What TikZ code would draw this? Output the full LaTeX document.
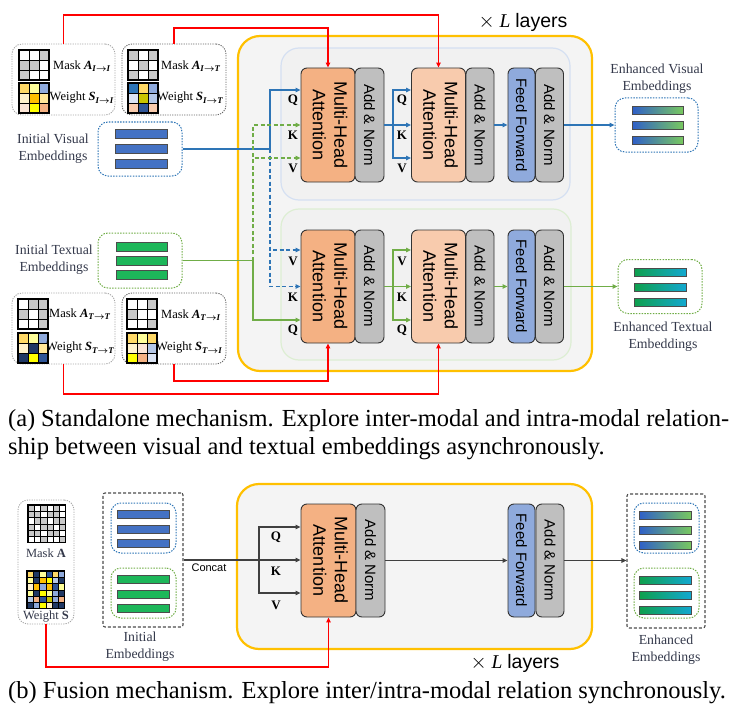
\documentclass[tikz,border=0pt]{standalone}
\usepackage{fontspec}
\setmainfont{Liberation Serif}
\setsansfont{Liberation Sans}
\usepackage{graphicx}
\usetikzlibrary{arrows.meta}
\definecolor{mhaA}{HTML}{F4B183}
\definecolor{mhaB}{HTML}{F8CBAD}
\definecolor{anC}{HTML}{BFBFBF}
\definecolor{ffC}{HTML}{8FAADC}
\definecolor{yel}{HTML}{FFC000}
\definecolor{bgY}{HTML}{F4F4F4}
\definecolor{bgI}{HTML}{F1F1F1}
\definecolor{upB}{HTML}{D5E0F2}
\definecolor{loB}{HTML}{DDEED3}
\definecolor{blueL}{HTML}{2E75B6}
\definecolor{greenL}{HTML}{70AD47}
\definecolor{barB}{HTML}{4472C4}
\definecolor{barG}{HTML}{1DB75A}
\definecolor{txtC}{HTML}{33384A}
\definecolor{darkL}{HTML}{404040}
\definecolor{cG}{HTML}{C8C8C8}
\definecolor{cW}{HTML}{FFFFFF}
\definecolor{gA}{HTML}{FFD966}
\definecolor{gB}{HTML}{FFFF99}
\definecolor{gC}{HTML}{8FAADC}
\definecolor{gD}{HTML}{FFF2CC}
\definecolor{gE}{HTML}{FFC000}
\definecolor{gF}{HTML}{FFE699}
\definecolor{gH}{HTML}{FBE5D6}
\definecolor{gI}{HTML}{FFFF00}
\definecolor{gJ}{HTML}{F4B183}
\definecolor{bA}{HTML}{2E75B6}
\definecolor{bB}{HTML}{DAE3F3}
\definecolor{bC}{HTML}{C9C400}
\definecolor{bD}{HTML}{B4C7E7}
\definecolor{bE}{HTML}{F8CBAD}
\definecolor{bF}{HTML}{2F5597}
\definecolor{nA}{HTML}{203864}
\definecolor{evL}{HTML}{2F5FC8}
\definecolor{evM}{HTML}{00B8F0}
\definecolor{evR}{HTML}{78C860}
\definecolor{etL}{HTML}{0FA04C}
\definecolor{etM}{HTML}{92D450}
\definecolor{etR}{HTML}{12A8D0}
\newcommand{\mybi}[1]{\textbf{\textit{#1}}}
\newcommand{\mysub}[2]{\textsubscript{\mybi{#1}{\boldmath$\to$}\mybi{#2}}}
\newcommand{\cellgrid}[5]{%
  \foreach \clr [count=\k from 0] in {#5}{%
    \pgfmathtruncatemacro{\rr}{\k/#4}%
    \pgfmathtruncatemacro{\qq}{\k-\rr*#4}%
    \filldraw[fill=\clr, draw=black, line width=0.7pt] ({#1+\qq*#3},{#2+\rr*#3}) rectangle ++(#3,#3);%
  }%
  \draw[black, line width=1.1pt] (#1,#2) rectangle ++({#4*#3},{#4*#3});%
}
\newcommand{\mhatext}{\rotatebox{-90}{\begin{tabular}{@{}c@{}}Multi-Head\\Attention\end{tabular}}}
\newcommand{\antext}{\rotatebox{-90}{Add \& Norm}}
\newcommand{\fftext}{\rotatebox{-90}{Feed Forward}}
\begin{document}
\begin{tikzpicture}[x=1pt,y=-1pt,
  arr/.style={-{Triangle[length=5pt,width=4.5pt]}},
  dsh/.style={dash pattern=on 4pt off 2.5pt},
  blk/.style={draw=black!80, line width=0.9pt, rounded corners=6pt, inner sep=0pt, minimum height=114},
  mha/.style={blk, minimum width=54, font=\sffamily\fontsize{18}{21.5}\selectfont},
  anb/.style={blk, fill=anC, minimum width=29, font=\sffamily\fontsize{15}{17}\selectfont},
  ffb/.style={blk, fill=ffC, minimum width=27, font=\sffamily\fontsize{15}{17}\selectfont},
  frame/.style={draw=yel, line width=2.2pt, fill=bgY, rounded corners=22pt, inner sep=0pt},
  inbox/.style={line width=1.2pt, fill=bgI, rounded corners=18pt, inner sep=0pt},
  blueln/.style={draw=blueL, line width=1.2pt},
  greenln/.style={draw=greenL, line width=1.2pt},
  redln/.style={draw=red, line width=1.4pt},
  darkln/.style={draw=darkL, line width=1.1pt},
  qkv/.style={font=\bfseries\fontsize{13}{15}\selectfont, inner sep=0pt},
  embtxt/.style={font=\fontsize{13.8}{17}\selectfont, text=txtC, align=center, inner sep=0pt},
  msk/.style={font=\fontsize{12.5}{14}\selectfont, anchor=west, inner sep=0pt},
  maskbox/.style={rounded corners=10pt, line width=0.9pt, inner sep=0pt, dash pattern=on 1.2pt off 1.2pt},
  embbox/.style={rounded corners=10pt, line width=1pt, inner sep=0pt, dash pattern=on 1.5pt off 1.3pt},
  barline/.style={draw=black!70, line width=1pt}
]
\useasboundingbox (0,0) rectangle (737,709);

% ================= (a) =================
\node[frame, minimum width=354, minimum height=335] (yA) at (415,203.5) {};
\node[inbox, draw=upB, minimum width=289, minimum height=152] (upA) at (425.5,124) {};
\node[inbox, draw=loB, minimum width=290, minimum height=151] (loA) at (426,284.5) {};
\node[font=\fontsize{19.5}{22}\selectfont, inner sep=0pt] (layA) at (523,22) {$\times$ \textit{L} \textsf{layers}};

% blocks upper
\node[mha, fill=mhaA] (mha1) at (328,125) {\mhatext};
\node[anb] (an1) at (369.5,125) {\antext};
\node[mha, fill=mhaB] (mha2) at (438.5,125) {\mhatext};
\node[anb, minimum width=28] (an2) at (480,125) {\antext};
\node[ffb] (ff1) at (521.5,125) {\fftext};
\node[anb, minimum width=28] (an3) at (549.5,125) {\antext};
% blocks lower
\node[mha, fill=mhaA, minimum height=113] (mha3) at (328,286.5) {\mhatext};
\node[anb, minimum height=113] (an4) at (369.5,286.5) {\antext};
\node[mha, fill=mhaB, minimum height=113] (mha4) at (438.5,286.5) {\mhatext};
\node[anb, minimum width=28, minimum height=113] (an5) at (480,286.5) {\antext};
\node[ffb, minimum height=113] (ff2) at (521.5,286.5) {\fftext};
\node[anb, minimum width=28, minimum height=113] (an6) at (549.5,286.5) {\antext};

% mask boxes
\node[maskbox, draw=black!35, minimum width=103, minimum height=71] (m1) at (63.5,79.5) {};
\node[maskbox, draw=black!60, minimum width=104, minimum height=71] (m2) at (174,79.5) {};
\node[maskbox, draw=black!35, minimum width=103, minimum height=71] (m3) at (63.5,328.5) {};
\node[maskbox, draw=black!60, minimum width=104, minimum height=71] (m4) at (174,328.5) {};
\cellgrid{19}{50}{10}{3}{cW,cW,cG, cG,cG,cW, cG,cW,cW}
\cellgrid{19}{83}{10}{3}{gA,gB,gC, gD,gE,gF, gH,gI,gJ}
\cellgrid{128}{50}{10}{3}{cG,cW,cG, cW,cG,cW, cG,cW,cG}
\cellgrid{128}{83}{10}{3}{bA,gA,gC, bB,bC,bD, bE,bF,bE}
\cellgrid{18}{299}{10}{3}{cW,cG,cG, cG,cW,cG, cW,cW,cG}
\cellgrid{18}{333}{10}{3}{gA,gB,gC, gD,nA,gF, nA,gI,bF}
\cellgrid{127}{299}{10}{3}{cW,cW,cG, cG,cW,cW, cW,cW,cG}
\cellgrid{127}{333}{10}{3}{gA,gB,gA, gD,gH,bD, gI,gJ,bB}
\node[msk] (mt1) at (53,66) {Mask \mybi{A}\mysub{I}{I}};
\node[msk] (wt1) at (49.5,98) {Weight \mybi{S}\mysub{I}{I}};
\node[msk] (mt2) at (161,66) {Mask \mybi{A}\mysub{I}{T}};
\node[msk] (wt2) at (157,98) {Weight \mybi{S}\mysub{I}{T}};
\node[msk] (mt3) at (49,314) {Mask \mybi{A}\mysub{T}{T}};
\node[msk] (wt3) at (46,348) {Weight \mybi{S}\mysub{T}{T}};
\node[msk] (mt4) at (161,315) {Mask \mybi{A}\mysub{T}{I}};
\node[msk] (wt4) at (156,348) {Weight \mybi{S}\mysub{T}{I}};

% embeddings
\node[embtxt] (visT) at (53,149) {Initial Visual\\Embeddings};
\node[embtxt] (txtT) at (54,260) {Initial Textual\\Embeddings};
\node[embbox, draw=blueL, minimum width=84, minimum height=54] (visE) at (140,149) {};
\node[embbox, draw=greenL, minimum width=84, minimum height=55] (txtE) at (140,260.5) {};
\foreach \yy in {134,149,164} \filldraw[barline, fill=barB] (115,\yy-4.5) rectangle (167,\yy+4.5);
\foreach \yy in {247,261,275} \filldraw[barline, fill=barG] (116,\yy-4.5) rectangle (167,\yy+4.5);
\node[embbox, draw=blueL, minimum width=83, minimum height=54] (enhV) at (656.5,125) {};
\node[embbox, draw=greenL, minimum width=84, minimum height=54] (enhT) at (660,286.5) {};
\foreach \yy in {111,125.5,140} \draw[barline, left color=evL, middle color=evM, right color=evR] (632,\yy-4) rectangle (683,\yy+4);
\foreach \yy in {272,287,302} \draw[barline, left color=etL, middle color=etM, right color=etR] (634,\yy-4) rectangle (686,\yy+4);
\node[embtxt] (enhVT) at (657,79) {Enhanced Visual\\Embeddings};
\node[embtxt] (enhTT) at (663,337) {Enhanced Textual\\Embeddings};

% level coordinates
\coordinate (q1) at (0,90); \coordinate (k1) at (0,125); \coordinate (v1) at (0,158);
\coordinate (v3) at (0,250); \coordinate (k3) at (0,286.5); \coordinate (q3) at (0,320);
\coordinate (vb) at (270,149);
\coordinate (gb) at (253,260.5);
\coordinate (s1) at (393,125);
\coordinate (s3) at (393,286.5);

% visual connectors
\draw[blueln] (visE.east) -- (vb);
\draw[blueln, arr] (vb) |- (mha1.west |- q1);
\draw[blueln, arr, dsh] (vb) |- (mha3.west |- v3);
\draw[blueln, arr, dsh] (vb) |- (mha3.west |- k3);
% textual connectors
\draw[greenln] (txtE.east) -- (gb);
\draw[greenln, arr] (gb) |- (mha3.west |- q3);
\draw[greenln, arr, dsh] (gb) |- (mha1.west |- k1);
\draw[greenln, arr, dsh] (gb) |- (mha1.west |- v1);
% upper chain
\draw[blueln] (an1.east |- k1) -- (s1);
\draw[blueln, arr] (s1) |- (mha2.west |- q1);
\draw[blueln, arr] (s1) -- (mha2.west |- k1);
\draw[blueln, arr] (s1) |- (mha2.west |- v1);
\draw[blueln, arr] (an2.east) -- (ff1.west);
\draw[blueln, arr] (an3.east) -- (enhV.west);
% lower chain
\draw[greenln] (an4.east |- k3) -- (s3);
\draw[greenln, arr] (s3) |- (mha4.west |- v3);
\draw[greenln, arr] (s3) -- (mha4.west |- k3);
\draw[greenln, arr] (s3) |- (mha4.west |- q3);
\draw[greenln, arr] (an5.east) -- (ff2.west);
\draw[greenln, arr] (an6.east) -- (enhT.west);

% qkv labels
\node[qkv] (lq1) at (293,100) {Q}; \node[qkv] (lk1) at (293,135) {K}; \node[qkv] (lv1) at (293,168) {V};
\node[qkv] (lq2) at (402,100) {Q}; \node[qkv] (lk2) at (402,135) {K}; \node[qkv] (lv2) at (402,168) {V};
\node[qkv] (lv3) at (293,261) {V}; \node[qkv] (lk3) at (293,297) {K}; \node[qkv] (lq3) at (293,330) {Q};
\node[qkv] (lv4) at (402,261) {V}; \node[qkv] (lk4) at (402,297) {K}; \node[qkv] (lq4) at (402,330) {Q};

% red mask connectors
\coordinate (r1) at (63.5,15); \coordinate (r2) at (174,28);
\coordinate (r3) at (63.5,394); \coordinate (r4) at (174,381);
\draw[redln, arr] (m1.north) -- (r1) -| (mha2.north);
\draw[redln, arr] (m2.north) -- (r2) -| (mha1.north);
\draw[redln, arr] (m3.south) -- (r3) -| (mha4.south);
\draw[redln, arr] (m4.south) -- (r4) -| (mha3.south);

% caption a
\node[anchor=base west, inner sep=0pt, font=\fontsize{24.5}{29}\selectfont] (capA1) at (8,426) {\makebox[721pt][s]{(a) Standalone mechanism. Explore inter-modal and intra-modal relation-}};
\node[anchor=base west, inner sep=0pt, font=\fontsize{24.5}{29}\selectfont] (capA2) at (8,454) {ship between visual and textual embeddings asynchronously.};

% ================= (b) =================
\node[frame, minimum width=355, minimum height=165] (yB) at (414.5,566.5) {};
\node[font=\fontsize{19.5}{22}\selectfont, inner sep=0pt] (layB) at (515,663) {$\times$ \textit{L} \textsf{layers}};
\node[mha, fill=mhaA, minimum width=55, minimum height=113] (mha5) at (328.5,560.5) {\mhatext};
\node[anb, minimum height=113] (an7) at (370.5,560.5) {\antext};
\node[ffb, minimum height=113] (ff3) at (521.5,560.5) {\fftext};
\node[anb, minimum width=28, minimum height=113] (an8) at (550,560.5) {\antext};

\node[maskbox, draw=black!35, minimum width=56, minimum height=124] (mb) at (46,562) {};
\cellgrid{28}{505}{6.3}{6}{cG,cW,cG,cW,cG,cW, cG,cG,cW,cG,cG,cW, cW,cG,cG,cW,cG,cG, cG,cW,cG,cG,cW,cG, cG,cG,cW,cG,cG,cW, cW,cW,cG,cW,cW,cG}
\cellgrid{27}{571}{6.3}{6}{gA,nA,gB,bF,gA,gC, gB,nA,gE,gI,bD,nA, gD,gE,gC,gE,bF,gB, gB,nA,gI,gB,gC,nA, bD,gJ,bF,bC,gC,gJ, nA,gC,gI,gD,nA,nA}
\node[font=\fontsize{12.5}{14}\selectfont, text=txtC, inner sep=0pt] (mtb) at (46,553) {Mask \textbf{A}};
\node[font=\fontsize{12.5}{14}\selectfont, text=txtC, inner sep=0pt] (wtb) at (46,617) {Weight \textbf{S}};

\node[rounded corners=2pt, draw=black!70, line width=1.1pt, dash pattern=on 3pt off 2pt, minimum width=80, minimum height=134, inner sep=0pt] (initB) at (143,560) {};
\node[embbox, draw=blueL, minimum width=65, minimum height=50] (ibB) at (143.5,528) {};
\node[embbox, draw=greenL, minimum width=65, minimum height=50] (igB) at (143.5,593) {};
\foreach \yy in {514,529,543} \filldraw[barline, fill=barB] (117,\yy-4) rectangle (169,\yy+4);
\foreach \yy in {579,594,608} \filldraw[barline, fill=barG] (117,\yy-4) rectangle (169,\yy+4);
\node[embtxt] (initT) at (140,647) {Initial\\Embeddings};

\node[rounded corners=2pt, draw=black!70, line width=1.1pt, dash pattern=on 3pt off 2pt, minimum width=78, minimum height=134, inner sep=0pt] (enhB) at (666,561) {};
\node[embbox, draw=blueL, minimum width=65, minimum height=50] (ebB) at (666.5,528) {};
\node[embbox, draw=greenL, minimum width=65, minimum height=50] (egB) at (666.5,593) {};
\foreach \yy in {515,530,545} \draw[barline, left color=evL, middle color=evM, right color=evR] (639,\yy-4) rectangle (691,\yy+4);
\foreach \yy in {580,595,610} \draw[barline, left color=etL, middle color=etM, right color=etR] (639,\yy-4) rectangle (691,\yy+4);
\node[embtxt] (enhBT) at (666,650) {Enhanced\\Embeddings};

\coordinate (q5) at (0,527); \coordinate (k5) at (0,560.5); \coordinate (v5) at (0,593);
\coordinate (cb) at (259,560.5);
\draw[darkln, arr] (initB.east) -- (mha5.west |- initB.east);
\draw[darkln, arr] (cb) |- (mha5.west |- q5);
\draw[darkln, arr] (cb) |- (mha5.west |- v5);
\draw[darkln, arr] (an7.east) -- (ff3.west);
\draw[darkln, arr] (an8.east) -- (an8.east -| enhB.west);
\node[font=\sffamily\fontsize{11}{13}\selectfont, inner sep=0pt] (concat) at (209,568) {Concat};
\node[qkv] (lq5) at (276,537) {Q}; \node[qkv] (lk5) at (276,571) {K}; \node[qkv] (lv5) at (276,605) {V};

\coordinate (r5) at (46,667);
\draw[redln, arr] (mb.south) -- (r5) -| (mha5.south);

\node[anchor=base west, inner sep=0pt, font=\fontsize{24.5}{29}\selectfont] (capB) at (8,698) {(b) Fusion mechanism. Explore inter/intra-modal relation synchronously.};
\end{tikzpicture}
\end{document}
